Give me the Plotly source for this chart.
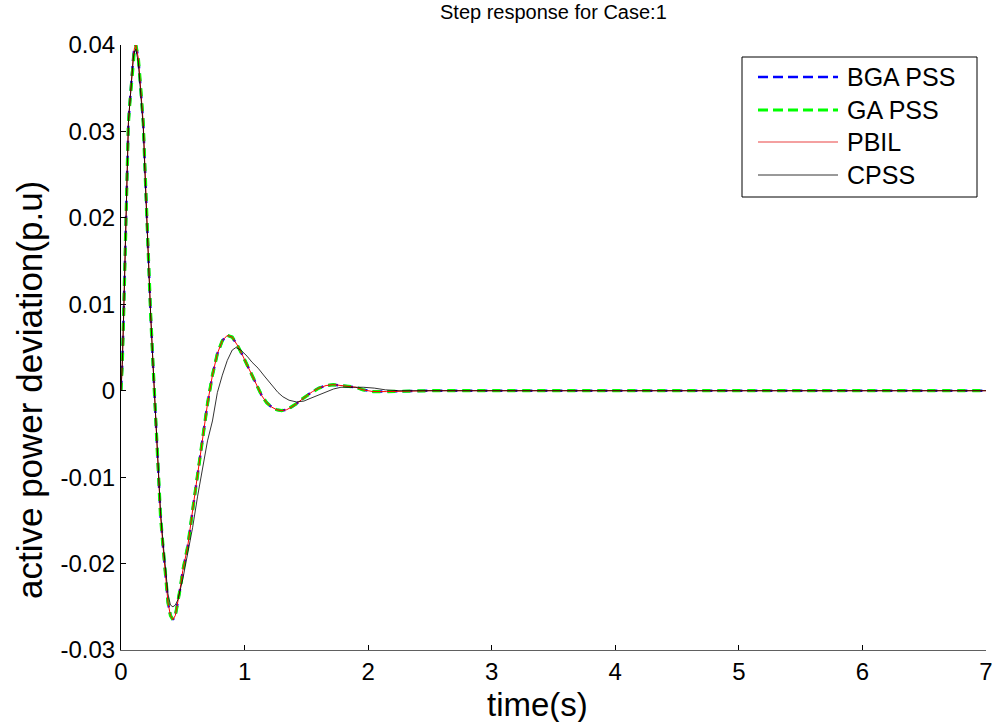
import plotly.graph_objects as go

# ---- data ----
t_main = [0, 0.01, 0.02, 0.03, 0.04, 0.05, 0.06, 0.07, 0.08, 0.09, 0.10, 0.11, 0.12,
          0.14, 0.16, 0.18, 0.20, 0.22, 0.24, 0.26, 0.28, 0.30, 0.32, 0.34, 0.36,
          0.38, 0.40, 0.42, 0.44, 0.46, 0.48, 0.50, 0.54, 0.58, 0.62, 0.66, 0.70,
          0.74, 0.78, 0.82, 0.86, 0.90, 0.94, 0.98, 1.02, 1.06, 1.10, 1.14, 1.18,
          1.22, 1.26, 1.30, 1.34, 1.38, 1.42, 1.46, 1.50, 1.55, 1.60, 1.66, 1.72,
          1.78, 1.84, 1.90, 1.96, 2.04, 2.15, 2.30, 2.50, 7.0]
bga_pss = [0, 0.003, 0.008, 0.014, 0.020, 0.026, 0.031, 0.033, 0.035, 0.037, 0.0388, 0.0397, 0.0400,
           0.0385, 0.0350, 0.0310, 0.0235, 0.0150, 0.0088, 0.0028, -0.0030, -0.0100, -0.0145, -0.0180, -0.0215,
           -0.0245, -0.0260, -0.0265, -0.0260, -0.0245, -0.0228, -0.0208, -0.0180, -0.0138, -0.0097, -0.0052, -0.0015,
           0.0018, 0.0043, 0.0058, 0.0064, 0.0062, 0.0053, 0.0042, 0.0030, 0.0017, 0.0005, -0.0006, -0.0014,
           -0.0019, -0.0022, -0.0023, -0.0022, -0.0019, -0.0015, -0.0010, -0.0006, -0.0001, 0.0003, 0.0006, 0.0007,
           0.0006, 0.0005, 0.0004, 0.0001, -0.0001, -0.0001, -0.00005, 0, 0]
ga_pss = list(bga_pss)
pbil = list(bga_pss)

t_cpss = [0, 0.01, 0.02, 0.03, 0.04, 0.05, 0.06, 0.07, 0.08, 0.09, 0.10, 0.11, 0.12,
          0.14, 0.16, 0.18, 0.20, 0.22, 0.24, 0.26, 0.28, 0.30, 0.32, 0.34, 0.36,
          0.38, 0.40, 0.42, 0.44, 0.46, 0.50, 0.54, 0.58, 0.62, 0.66, 0.70, 0.74,
          0.78, 0.82, 0.86, 0.90, 0.93, 0.97, 1.02, 1.06, 1.11, 1.16, 1.21, 1.27,
          1.31, 1.36, 1.42, 1.48, 1.53, 1.60, 1.66, 1.72, 1.78, 1.90, 1.96, 2.05,
          2.14, 2.25, 7.0]
cpss = [0, 0.003, 0.008, 0.014, 0.020, 0.026, 0.031, 0.033, 0.035, 0.037, 0.0385, 0.0393, 0.0395,
        0.0380, 0.0345, 0.0305, 0.0228, 0.0148, 0.0088, 0.0028, -0.0028, -0.0098, -0.0140, -0.0175, -0.0210,
        -0.0235, -0.0248, -0.0250, -0.0248, -0.0242, -0.0218, -0.0190, -0.0158, -0.0122, -0.0088, -0.0058, -0.0035,
        -0.0002, 0.0018, 0.0035, 0.0047, 0.0050, 0.0047, 0.0040, 0.0033, 0.0026, 0.0017, 0.0008, -0.0002,
        -0.0007, -0.0011, -0.0013, -0.0012, -0.0009, -0.0005, -0.0002, 0.0002, 0.0004, 0.0004, 0.0004, 0.0003,
        0.0001, 0, 0]

series_names = ["BGA PSS", "GA PSS", "PBIL", "CPSS"]
x_ticks = [0, 1, 2, 3, 4, 5, 6, 7]
y_ticks = [-0.03, -0.02, -0.01, 0, 0.01, 0.02, 0.03, 0.04]
y_tick_labels = ["-0.03", "-0.02", "-0.01", "0", "0.01", "0.02", "0.03", "0.04"]

FONT = "Liberation Sans, Arial, sans-serif"

fig = go.Figure()
fig.add_trace(go.Scatter(x=t_main, y=bga_pss, mode="lines", name=series_names[0],
                         line=dict(color="#0000ff", width=2.5, dash="10px,5px")))
fig.add_trace(go.Scatter(x=t_main, y=ga_pss, mode="lines", name=series_names[1],
                         line=dict(color="#00ff00", width=3.2, dash="8px,7px")))
fig.add_trace(go.Scatter(x=t_main, y=pbil, mode="lines", name=series_names[2],
                         line=dict(color="#ff0000", width=1)))
fig.add_trace(go.Scatter(x=t_cpss, y=cpss, mode="lines", name=series_names[3],
                         line=dict(color="#000000", width=0.8)))

L, R, T, B = 121, 6, 45, 72
W, H = 992, 722
PW, PH = W - L - R, H - T - B


def px(xp):
    return (xp - L) / PW


def py(yp):
    return (H - B - yp) / PH


# manual legend (box, samples, labels)
shapes = [dict(type="rect", xref="paper", yref="paper", x0=px(742), x1=px(977), y0=py(197), y1=py(57),
               line=dict(color="black", width=1), fillcolor="white", layer="above")]
leg_y = [77, 110, 142, 175]
leg_styles = [dict(color="#0000ff", width=2.5, dash="10px,5px"),
              dict(color="#00ff00", width=3, dash="10px,5px"),
              dict(color="#f08080", width=1.5),
              dict(color="#000000", width=0.8)]
annotations = []
for name, yy, st in zip(series_names, leg_y, leg_styles):
    shapes.append(dict(type="line", xref="paper", yref="paper", x0=px(758), x1=px(838), y0=py(yy), y1=py(yy),
                       line=st, layer="above"))
    annotations.append(dict(text=name, xref="paper", yref="paper", x=px(845), y=py(yy), xanchor="left",
                            yanchor="middle", showarrow=False, font=dict(family=FONT, size=25, color="black")))

annotations.append(dict(text="Step response for Case:1", xref="paper", yref="paper", x=px(553), y=py(12),
                        xanchor="center", yanchor="middle", showarrow=False,
                        font=dict(family=FONT, size=20, color="black")))
annotations.append(dict(text="time(s)", xref="paper", yref="paper", x=px(537), y=py(704),
                        xanchor="center", yanchor="middle", showarrow=False,
                        font=dict(family=FONT, size=33, color="black")))
annotations.append(dict(text="active power deviation(p.u)", xref="paper", yref="paper", x=px(29), y=py(390),
                        xanchor="center", yanchor="middle", showarrow=False, textangle=-90,
                        font=dict(family=FONT, size=35, color="black")))

fig.update_layout(
    width=W, height=H,
    margin=dict(l=L, r=R, t=T, b=B, pad=0, autoexpand=False),
    paper_bgcolor="white", plot_bgcolor="white",
    showlegend=False,
    shapes=shapes, annotations=annotations,
    font=dict(family=FONT, color="black"),
)
fig.update_xaxes(range=[0, 7], tickvals=x_ticks, ticks="inside", ticklen=5, tickcolor="black",
                 showgrid=False, zeroline=False, showline=True, linecolor="#606060", linewidth=1,
                 ticklabeloverflow="allow", automargin=False,
                 tickfont=dict(family=FONT, size=24, color="black"))
fig.update_yaxes(range=[-0.03, 0.04], tickvals=y_ticks, ticktext=y_tick_labels, ticks="inside", ticklen=5,
                 tickcolor="black", showgrid=False, zeroline=False, showline=True, linecolor="black",
                 linewidth=1, ticklabeloverflow="allow", automargin=False,
                 tickfont=dict(family=FONT, size=24, color="black"))

fig.write_html("out.html")
